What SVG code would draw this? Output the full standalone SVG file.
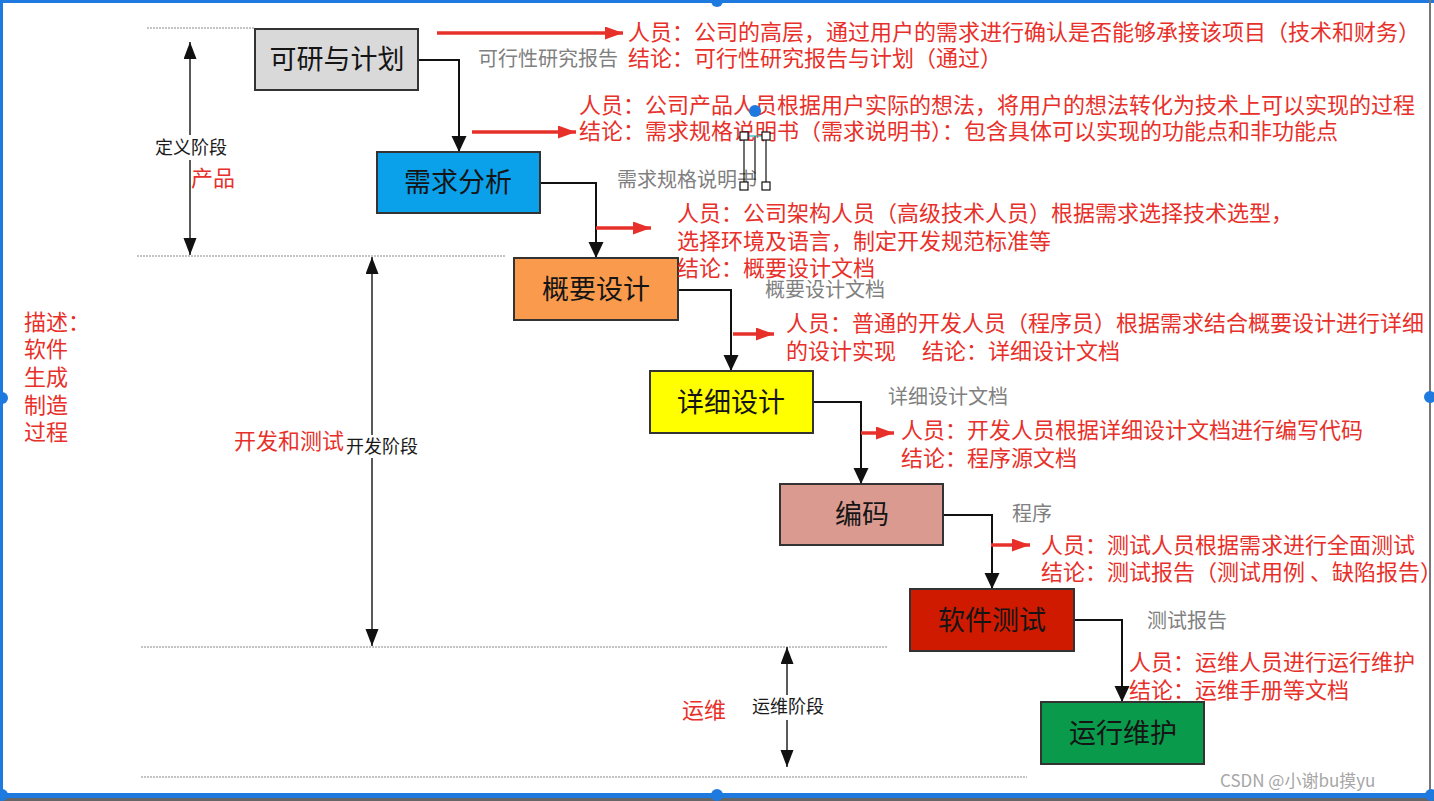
<svg xmlns="http://www.w3.org/2000/svg" width="1434" height="801" viewBox="0 0 1434 801">
<style>
.t{font-family:"Noto Sans CJK SC","Noto Sans",sans-serif}
.node rect{stroke:#333;stroke-width:2}
.node text{font-size:27px;fill:#151515;text-anchor:middle}
.red{font-size:22px;fill:#e8302a}
.gray{font-size:20px;fill:#808080}
.blk{font-size:18px;fill:#1a1a1a}
.conn{fill:none;stroke:#111;stroke-width:2;marker-end:url(#ah)}
.rarr{stroke:#e8302a;stroke-width:3.5;marker-end:url(#rh)}
.dbl{stroke:#222;stroke-width:1.5;marker-start:url(#dh);marker-end:url(#dh)}
.sep{stroke:#c4c4c4;stroke-width:2;stroke-dasharray:2 1}
.dot{fill:#1f7ae0}
.hnd{fill:#fff;stroke:#111;stroke-width:1.2}
</style>
<defs>
<marker id="ah" markerUnits="userSpaceOnUse" markerWidth="16" markerHeight="16" refX="16" refY="7.5" orient="auto"><path d="M0,0 L16,7.5 L0,15 z" fill="#111"/></marker>
<marker id="dh" markerUnits="userSpaceOnUse" markerWidth="18" markerHeight="14" refX="17" refY="6.5" orient="auto-start-reverse"><path d="M0,0 L17,6.5 L0,13 z" fill="#111"/></marker>
<marker id="rh" markerUnits="userSpaceOnUse" markerWidth="19" markerHeight="14" refX="18" refY="6.5" orient="auto"><path d="M0,0 L18,6.5 L0,13 z" fill="#e8302a"/></marker>
</defs>
<rect width="1434" height="801" fill="#fff"/>

<!-- separators -->
<g id="separators">
<line class="sep" x1="147" y1="28" x2="255" y2="28"/>
<line class="sep" x1="137" y1="256" x2="506" y2="256"/>
<line class="sep" x1="141" y1="647" x2="887" y2="647"/>
<line class="sep" x1="141" y1="777" x2="1027" y2="777"/>
</g>

<!-- phase arrows -->
<g id="phases">
<line class="dbl" x1="190" y1="42" x2="190" y2="255"/>
<rect x="150" y="135" width="80" height="25" fill="#fff"/>
<text class="t blk" x="155" y="154">定义阶段</text>
<text class="t red" x="191" y="186">产品</text>
<line class="dbl" x1="372" y1="257" x2="372" y2="646"/>
<rect x="344" y="435" width="78" height="23" fill="#fff"/>
<text class="t blk" x="346" y="453">开发阶段</text>
<text class="t red" x="234" y="449">开发和测试</text>
<line class="dbl" x1="787" y1="647" x2="787" y2="767"/>
<rect x="748" y="695" width="80" height="25" fill="#fff"/>
<text class="t blk" x="752" y="713">运维阶段</text>
<text class="t red" x="682" y="718">运维</text>
<text class="t red" x="24" y="330">描述：</text>
<text class="t red" x="24" y="357">软件</text>
<text class="t red" x="24" y="385">生成</text>
<text class="t red" x="24" y="413">制造</text>
<text class="t red" x="24" y="440">过程</text>
</g>

<!-- connectors -->
<g id="connectors">
<polyline class="conn" points="418,60 459,60 459,152"/>
<polyline class="conn" points="540,183 596,183 596,258"/>
<polyline class="conn" points="678,290 731,290 731,371"/>
<polyline class="conn" points="813,402 861,402 861,484"/>
<polyline class="conn" points="943,515 992,515 992,589"/>
<polyline class="conn" points="1074,620 1122,620 1122,702"/>
<line class="rarr" x1="437" y1="33" x2="623" y2="33"/>
<line class="rarr" x1="472" y1="132" x2="576" y2="132"/>
<line class="rarr" x1="596" y1="228" x2="651" y2="228"/>
<line class="rarr" x1="733" y1="334" x2="774" y2="334"/>
<line class="rarr" x1="861" y1="433" x2="894" y2="433"/>
<line class="rarr" x1="991" y1="545" x2="1030" y2="545"/>
</g>

<!-- gray output labels -->
<g id="outputs">
<text class="t gray" x="478" y="66">可行性研究报告</text>
<text class="t gray" x="617" y="187">需求规格说明书</text>
<text class="t gray" x="765" y="297">概要设计文档</text>
<text class="t gray" x="888" y="404">详细设计文档</text>
<text class="t gray" x="1012" y="521">程序</text>
<text class="t gray" x="1147" y="628">测试报告</text>
</g>

<!-- nodes -->
<g id="n1" class="node"><rect x="255" y="29" width="163" height="61" fill="#d9d9d9"/><text class="t" x="337" y="69">可研与计划</text></g>
<g id="n2" class="node"><rect x="377" y="152" width="163" height="61" fill="#0aa0ea"/><text class="t" x="458" y="192">需求分析</text></g>
<g id="n3" class="node"><rect x="514" y="258" width="164" height="62" fill="#f99a4c"/><text class="t" x="596" y="299">概要设计</text></g>
<g id="n4" class="node"><rect x="650" y="371" width="163" height="62" fill="#ffff00"/><text class="t" x="731" y="412">详细设计</text></g>
<g id="n5" class="node"><rect x="780" y="484" width="163" height="61" fill="#da9a8f"/><text class="t" x="862" y="524">编码</text></g>
<g id="n6" class="node"><rect x="910" y="589" width="164" height="62" fill="#d01a00"/><text class="t" x="992" y="630">软件测试</text></g>
<g id="n7" class="node"><rect x="1041" y="702" width="163" height="62" fill="#0a9a4c"/><text class="t" x="1123" y="743">运行维护</text></g>

<!-- annotations -->
<g id="notes">
<text class="t red" x="628" y="40">人员：公司的高层，通过用户的需求进行确认是否能够承接该项目（技术和财务）</text>
<text class="t red" x="628" y="66">结论：可行性研究报告与计划（通过）</text>
<text class="t red" x="579" y="113">人员：公司产品人员根据用户实际的想法，将用户的想法转化为技术上可以实现的过程</text>
<text class="t red" x="579" y="139">结论：需求规格说明书（需求说明书）：包含具体可以实现的功能点和非功能点</text>
<text class="t red" x="677" y="221">人员：公司架构人员（高级技术人员）根据需求选择技术选型，</text>
<text class="t red" x="677" y="249">选择环境及语言，制定开发规范标准等</text>
<text class="t red" x="677" y="276">结论：概要设计文档</text>
<text class="t red" x="786" y="331">人员：普通的开发人员（程序员）根据需求结合概要设计进行详细</text>
<text class="t red" x="786" y="359">的设计实现<tspan x="922">结论：详细设计文档</tspan></text>
<text class="t red" x="901" y="438">人员：开发人员根据详细设计文档进行编写代码</text>
<text class="t red" x="901" y="466">结论：程序源文档</text>
<text class="t red" x="1041" y="553">人员：测试人员根据需求进行全面测试</text>
<text class="t red" x="1041" y="580">结论：测试报告（测试用例 、缺陷报告）</text>
<text class="t red" x="1129" y="670">人员：运维人员进行运行维护</text>
<text class="t red" x="1129" y="698">结论：运维手册等文档</text>
</g>

<text class="t" x="1220" y="787" font-size="17" fill="#a6a6a6">CSDN @小谢bu摸yu</text>

<!-- selection handle widget -->
<g id="handle">
<line x1="744" y1="136" x2="744" y2="186" stroke="#111" stroke-width="1.2"/>
<line x1="766" y1="136" x2="766" y2="186" stroke="#111" stroke-width="1.2"/>
<line x1="755" y1="136" x2="755" y2="180" stroke="#111" stroke-width="1.2"/>
<line x1="748" y1="136" x2="762" y2="136" stroke="#3aa" stroke-width="1.2"/>
<rect class="hnd" x="740" y="132" width="8" height="8"/>
<rect class="hnd" x="762" y="132" width="8" height="8"/>
<rect class="hnd" x="740" y="182" width="8" height="8"/>
<rect class="hnd" x="762" y="182" width="8" height="8"/>
<circle class="dot" cx="755" cy="111" r="6"/>
</g>

<!-- selection frame -->
<g id="frame">
<rect x="0" y="0" width="1434" height="3" fill="#1f7ae0"/>
<rect x="0" y="0" width="3" height="797" fill="#1f7ae0"/>
<rect x="1429" y="0" width="2" height="797" fill="#777"/>
<rect x="0" y="793" width="1434" height="5" fill="#1f7ae0"/>
<rect x="0" y="798" width="1434" height="3" fill="#666"/>
<circle class="dot" cx="717" cy="1" r="6"/>
<circle class="dot" cx="2" cy="398" r="6"/>
<circle class="dot" cx="1430" cy="397" r="6"/>
<circle class="dot" cx="2" cy="795" r="6"/>
<circle class="dot" cx="717" cy="795" r="6"/>
<circle class="dot" cx="1431" cy="795" r="6"/>
</g>
</svg>
